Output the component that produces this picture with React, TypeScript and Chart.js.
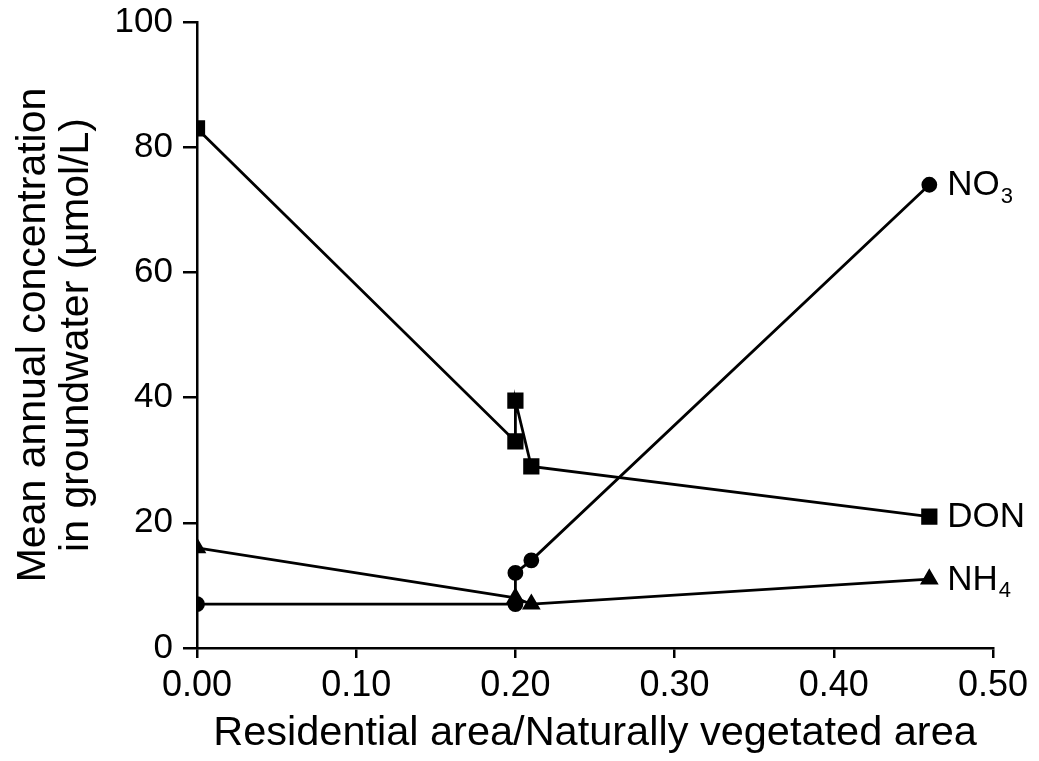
import React, { useEffect, useRef } from "react";
import { Chart, registerables } from "chart.js";

Chart.register(...registerables);

const donX = [0.0, 0.2, 0.2, 0.21, 0.46];
const donY = [83, 33, 39.5, 29, 21];
const no3X = [0.0, 0.2, 0.2, 0.21, 0.46];
const no3Y = [7, 7, 12, 14, 74];
const nh4X = [0.0, 0.2, 0.21, 0.46];
const nh4Y = [16, 8, 7, 11];

const seriesNames = ["DON", "NO3", "NH4"];
const seriesLabelMain = ["DON", "NO", "NH"];
const seriesLabelSub = ["", "3", "4"];

const xTicks = [0, 0.1, 0.2, 0.3, 0.4, 0.5];
const yTicks = [0, 20, 40, 60, 80, 100];

const xTitle = "Residential area/Naturally vegetated area";
const yTitle = ["Mean annual concentration", "in groundwater (µmol/L)"];

const FONT = "'Liberation Sans', Arial, Helvetica, sans-serif";

const toPts = (xs: number[], ys: number[]) => xs.map((x, i) => ({ x, y: ys[i] }));

const endLabels = {
  id: "endLabels",
  afterDatasetsDraw(chart: any) {
    const ctx = chart.ctx;
    ctx.save();
    ctx.fillStyle = "#000";
    ctx.textBaseline = "middle";
    chart.data.datasets.forEach((ds: any, i: number) => {
      const meta = chart.getDatasetMeta(i);
      const last = meta.data[meta.data.length - 1];
      const x = last.x + 18;
      const y = last.y + 1;
      ctx.font = `35px ${FONT}`;
      ctx.textAlign = "left";
      const main = seriesLabelMain[i];
      ctx.fillText(main, x, y);
      const w = ctx.measureText(main).width;
      if (seriesLabelSub[i]) {
        ctx.font = `22px ${FONT}`;
        ctx.fillText(seriesLabelSub[i], x + w + 1, y + 11);
      }
    });
    ctx.restore();
  },
};

export default function App() {
  const ref = useRef<HTMLCanvasElement>(null);
  useEffect(() => {
    if (!ref.current) return;
    const common = {
      borderColor: "#000",
      backgroundColor: "#000",
      borderWidth: 2.8,
      pointBackgroundColor: "#000",
      pointBorderColor: "#000",
      showLine: true,
      tension: 0,
    };
    const chart = new Chart(ref.current, {
      type: "scatter",
      data: {
        datasets: [
          { ...common, label: seriesNames[0], data: toPts(donX, donY), pointStyle: "rect", pointRadius: 9.5 },
          { ...common, label: seriesNames[1], data: toPts(no3X, no3Y), pointStyle: "circle", pointRadius: 6.5 },
          { ...common, label: seriesNames[2], data: toPts(nh4X, nh4Y), pointStyle: "triangle", pointRadius: 8 },
        ],
      },
      options: {
        animation: false,
        responsive: false,
        devicePixelRatio: 1,
        layout: { padding: { top: 22, right: 46, left: 0, bottom: 0 } },
        plugins: { legend: { display: false }, tooltip: { enabled: false } },
        scales: {
          x: {
            type: "linear",
            min: 0,
            max: 0.5,
            afterBuildTicks: (s: any) => {
              s.ticks = xTicks.map((v) => ({ value: v }));
            },
            afterFit: (s: any) => {
              s.height = 113;
              s.paddingLeft = 0;
              s.paddingRight = 0;
            },
            ticks: {
              color: "#000",
              font: { family: FONT, size: 36 },
              padding: 6,
              callback: (v: any) => Number(v).toFixed(2),
            },
            grid: { drawOnChartArea: false, drawTicks: true, tickLength: 10, color: "#000", lineWidth: 2.5 },
            border: { display: true, color: "#000", width: 2.5 },
            title: { display: true, text: xTitle, color: "#000", font: { family: FONT, size: 41.5, lineHeight: 1.2 }, padding: { top: 0, bottom: 3 } },
          },
          y: {
            type: "linear",
            min: 0,
            max: 100,
            afterBuildTicks: (s: any) => {
              s.ticks = yTicks.map((v) => ({ value: v }));
            },
            afterFit: (s: any) => {
              s.width = 197;
              s.paddingTop = 0;
              s.paddingBottom = 0;
            },
            ticks: {
              color: "#000",
              font: { family: FONT, size: 35 },
              padding: 10,
            },
            grid: { drawOnChartArea: false, drawTicks: true, tickLength: 14, color: "#000", lineWidth: 2.5 },
            border: { display: true, color: "#000", width: 2.5 },
            title: { display: true, text: yTitle, color: "#000", font: { family: FONT, size: 41, lineHeight: 1.03 }, padding: { top: 13, bottom: 0 } },
          },
        },
      },
      plugins: [endLabels],
    } as any);
    return () => chart.destroy();
  }, []);
  return (
    <canvas
      ref={ref}
      width={1039}
      height={761}
      style={{ position: "fixed", left: 0, top: 0, width: 1039, height: 761, background: "#fff" }}
    />
  );
}
